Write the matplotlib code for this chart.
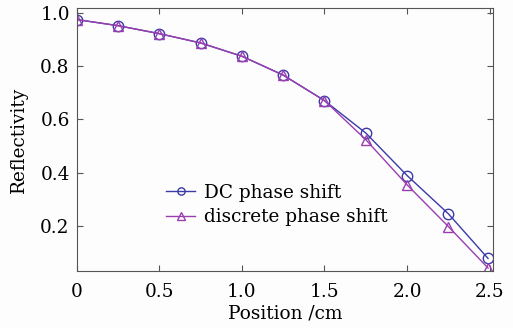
import matplotlib
matplotlib.use("Agg")
import matplotlib.pyplot as plt

position = [0, 0.25, 0.5, 0.75, 1.0, 1.25, 1.5, 1.75, 2.0, 2.25, 2.49]
dc_shift = [0.976, 0.953, 0.923, 0.888, 0.838, 0.767, 0.671, 0.549, 0.389, 0.245, 0.077]
discrete_shift = [0.976, 0.953, 0.923, 0.888, 0.838, 0.767, 0.671, 0.524, 0.354, 0.197, 0.041]

x_ticks = [0, 0.5, 1.0, 1.5, 2.0, 2.5]
x_ticklabels = ["0", "0.5", "1.0", "1.5", "2.0", "2.5"]
y_ticks = [0.2, 0.4, 0.6, 0.8, 1.0]
y_ticklabels = ["0.2", "0.4", "0.6", "0.8", "1.0"]

plt.rcParams["font.family"] = "DejaVu Serif"
plt.rcParams["font.size"] = 13.3

fig = plt.figure(figsize=(5.13, 3.28), dpi=100, facecolor="#fdfdfd")
ax = fig.add_axes([0.1495, 0.174, 0.8115, 0.802])
ax.set_facecolor("#fdfdfd")

blue = "#3a3aa8"
purple = "#9a3eb0"
ax.plot(position, dc_shift, color=blue, lw=1.0, marker="o", ms=7.5,
        mfc="none", mec=blue, mew=1.0, label="DC phase shift")
ax.plot(position, discrete_shift, color=purple, lw=1.0, marker="^", ms=7.5,
        mfc="none", mec=purple, mew=1.0, label="discrete phase shift")

ax.set_xlim(0, 2.52)
ax.set_ylim(0.03, 1.02)
ax.set_xticks(x_ticks)
ax.set_xticklabels(x_ticklabels)
ax.set_yticks(y_ticks)
ax.set_yticklabels(y_ticklabels)
ax.tick_params(direction="in", length=4, width=0.8, color="#555555",
               top=True, right=True)
ax.tick_params(axis="x", pad=9)
ax.tick_params(axis="y", pad=5)
for s in ax.spines.values():
    s.set_color("#555555")
    s.set_linewidth(0.8)

ax.set_xlabel("Position /cm", labelpad=2)
ax.set_ylabel("Reflectivity", labelpad=9)

ax.legend(loc="lower left", bbox_to_anchor=(0.215, 0.17), frameon=False,
          handlelength=1.55, handletextpad=0.5, labelspacing=0.35,
          borderpad=0, borderaxespad=0, markerscale=0.7)

fig.savefig("out.png", dpi=100, facecolor=fig.get_facecolor())
